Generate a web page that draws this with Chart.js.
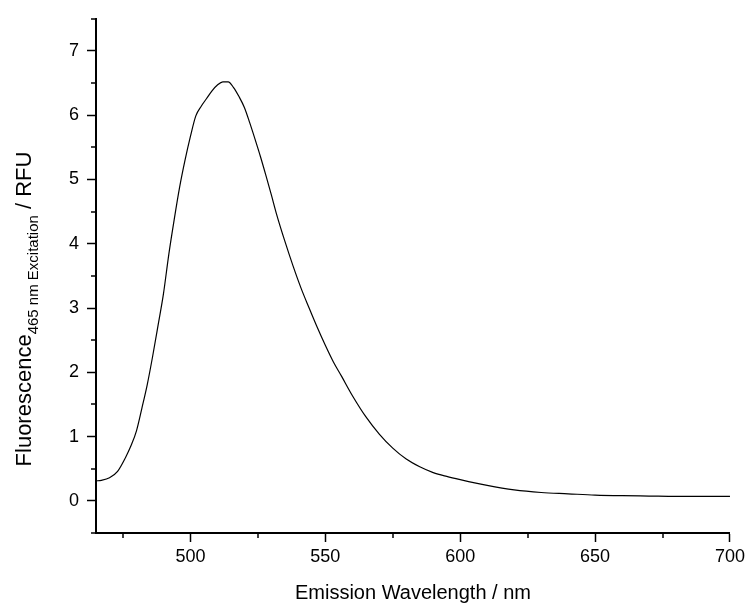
<!DOCTYPE html>
<html>
<head>
<meta charset="utf-8">
<script src="https://cdn.jsdelivr.net/npm/chart.js@4/dist/chart.umd.min.js"></script>
<style>
  html, body { margin: 0; padding: 0; background: #fff; }
  #wrap { width: 749px; height: 610px; }
</style>
</head>
<body>
<div id="wrap"><canvas id="emissionChart" width="749" height="610"></canvas></div>
<script>
// emission spectrum
const wavelengths = [465, 467, 470, 473, 476, 478, 480, 482, 484, 486, 488, 490, 492, 494, 496, 498,
    500, 502, 504, 506, 508, 510, 512, 514, 516, 518, 520, 522, 524, 526, 528, 530, 532, 535, 538,
    541, 544, 547, 550, 553, 556, 560, 565, 570, 575, 580, 585, 590, 595, 600, 610, 620, 630, 640,
    650, 660, 670, 680, 690, 700];
const fluorescence = [0.31, 0.32, 0.36, 0.46, 0.68, 0.86, 1.09, 1.44, 1.81, 2.25, 2.73, 3.22, 3.84, 4.38, 4.88, 5.30,
    5.67, 5.99, 6.14, 6.26, 6.38, 6.47, 6.52, 6.52, 6.43, 6.29, 6.12, 5.88, 5.62, 5.35, 5.06, 4.76, 4.45, 4.04, 3.66,
    3.31, 3.00, 2.70, 2.42, 2.16, 1.94, 1.64, 1.31, 1.04, 0.82, 0.65, 0.53, 0.44, 0.38, 0.33, 0.24, 0.17, 0.13, 0.11,
    0.09, 0.08, 0.075, 0.07, 0.07, 0.07];

const xTicks = [500, 550, 600, 650, 700];
const xMinorTicks = [475, 525, 575, 625, 675];
const yTicks = [0, 1, 2, 3, 4, 5, 6, 7];
const yMinorTicks = [-0.5, 0.5, 1.5, 2.5, 3.5, 4.5, 5.5, 6.5, 7.5];

const xTitle = "Emission Wavelength / nm";
const yTitle = ["Fluorescence", "465 nm Excitation", " / RFU"];

const FONT = "'Liberation Sans', Arial, sans-serif";

// minor ticks + axis titles
const extras = {
    id: "extras",
    afterDraw(chart) {
        const c = chart.ctx;
        const xs = chart.scales.x, ys = chart.scales.y;
        const area = chart.chartArea;
        c.save();
        c.strokeStyle = "#000";
        c.lineWidth = 1.5;
        c.beginPath();
        xMinorTicks.forEach((v) => {
            const px = Math.round(xs.getPixelForValue(v));
            c.moveTo(px, area.bottom);
            c.lineTo(px, area.bottom + 5);
        });
        yMinorTicks.forEach((v) => {
            const py = Math.round(ys.getPixelForValue(v));
            c.moveTo(area.left, py);
            c.lineTo(area.left - 5, py);
        });
        c.stroke();

        c.fillStyle = "#000";
        c.textBaseline = "alphabetic";
        c.font = "20px " + FONT;
        c.textAlign = "center";
        c.fillText(xTitle, (area.left + area.right) / 2, 599);

        // rotated y title with subscript
        const big = "22px " + FONT, small = "15px " + FONT;
        c.font = big;
        const w1 = c.measureText(yTitle[0]).width;
        const w3 = c.measureText(yTitle[2]).width;
        c.font = small;
        const w2 = c.measureText(yTitle[1]).width;
        const total = w1 + w2 + w3;
        c.translate(31, 309);
        c.rotate(-Math.PI / 2);
        c.textAlign = "left";
        let x = -total / 2;
        c.font = big;
        c.fillText(yTitle[0], x, 0);
        x += w1;
        c.font = small;
        c.fillText(yTitle[1], x, 7);
        x += w2;
        c.font = big;
        c.fillText(yTitle[2], x, 0);
        c.restore();
    }
};

document.addEventListener("DOMContentLoaded", () => {
    const ctx = document.getElementById("emissionChart").getContext("2d");

    new Chart(ctx, {
        type: "line",
        data: {
            labels: wavelengths,
            datasets: [
                {
                    data: wavelengths.map((w, i) => ({ x: w, y: fluorescence[i] })),
                    borderColor: "#000",
                    borderWidth: 1.2,
                    pointRadius: 0,
                    cubicInterpolationMode: "monotone",
                    fill: false,
                },
            ],
        },
        options: {
            responsive: false,
            animation: false,
            layout: { padding: { top: 18, right: 18, left: 0, bottom: 0 } },
            plugins: {
                legend: { display: false },
                tooltip: { enabled: false },
            },
            scales: {
                x: {
                    type: "linear",
                    min: 465,
                    max: 700,
                    afterFit: (s) => { s.height = 77; },
                    afterBuildTicks: (s) => { s.ticks = xTicks.map((v) => ({ value: v })); },
                    border: { color: "#000", width: 2 },
                    grid: { drawOnChartArea: false, color: "#000", tickLength: 9, tickWidth: 1.5 },
                    ticks: {
                        color: "#000",
                        padding: 4,
                        maxRotation: 0,
                        font: { size: 18, family: FONT },
                    },
                },
                y: {
                    min: -0.5,
                    max: 7.5,
                    afterFit: (s) => { s.width = 96; },
                    afterBuildTicks: (s) => { s.ticks = yTicks.map((v) => ({ value: v })); },
                    border: { color: "#000", width: 2 },
                    grid: { drawOnChartArea: false, color: "#000", tickLength: 9, tickWidth: 1.5 },
                    ticks: {
                        color: "#000",
                        padding: 8,
                        font: { size: 18, family: FONT },
                    },
                },
            },
        },
        plugins: [extras],
    });
});
</script>
</body>
</html>
